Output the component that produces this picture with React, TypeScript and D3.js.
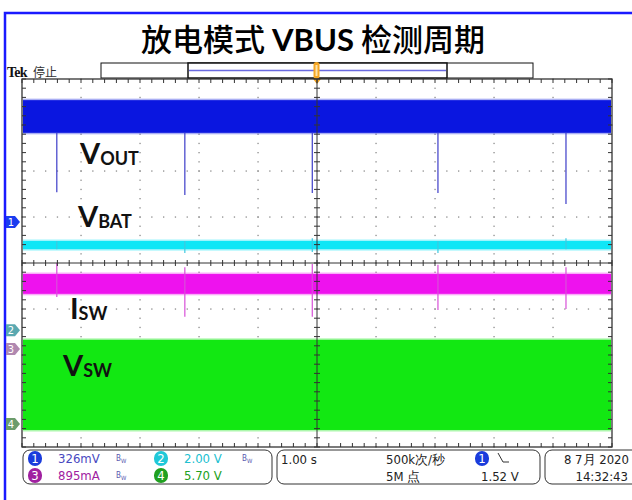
import React from "react";
import * as d3 from "d3";

// scope screen: 10 horizontal divisions (1.00 s/div), 8 vertical divisions
const timeDomain = [-5, 5];
const divDomain = [-4, 4];

// spikes recur roughly every 2.13 s
const spikeTimes = [-4.41, -2.24, -0.08, 2.05, 4.22];

// trace bands, in divisions from screen centre [low, high]
const ch1Band = [2.83, 3.54];
const ch2Band = [0.3, 0.48];
const ch3Band = [-0.67, -0.24];
const ch4Band = [-3.63, -1.67];

// spike extents per spike time
const ch1SpikeTops = [2.83, 2.83, 2.83, 2.83, 2.83];
const ch1SpikeLows = [1.54, 1.48, 1.52, 1.52, 1.28];
const ch2SpikeTops = [0.48, 0.48, 0.54, 0.48, 0.54];
const ch2SpikeLows = [0.3, 0.22, 0.24, 0.22, 0.3];
const ch3SpikeTops = [0.0, -0.09, -0.02, -0.04, -0.09];
const ch3SpikeLows = [-0.74, -1.17, -1.17, -1.02, -1.0];

// ground markers on left edge (ch1..ch4)
const markerLevels = [0.89, -1.46, -1.87, -3.5];
const markerLabels = ["1", "2", "3", "4"];

// trace labels
const traceLabels = [
  { main: "V", sub: "OUT" },
  { main: "V", sub: "BAT" },
  { main: "I", sub: "SW" },
  { main: "V", sub: "SW" },
];

// readouts
const chNumbers = ["1", "2", "3", "4"];
const chScales = ["326mV", "2.00 V", "895mA", "5.70 V"];
const timebase = "1.00 s";
const sampleRate = "500k次/秒";
const recordLength = "5M 点";
const trigLevel = "1.52 V";
const dateText = "8 7月 2020";
const timeText = "14:32:43";
const titleParts = ["放电模式 ", "VBUS", " 检测周期"];

const W = 632;
const H = 500;
const plot = { left: 22, right: 612, top: 79, bottom: 447 };

const traceColors = ["#0a16e0", "#10e6f6", "#ee12ee", "#12e812"];
const spikeColors = ["#3c3cc8", "#40c8e0", "#d850d8", "#40c040"];
const markerFills = ["#1a3cf0", "#5aa8b0", "#b088b0", "#6c9c6c"];
const chipFills = ["#1a3cdc", "#20c8d8", "#a020a0", "#20a020"];
const readColors = ["#4848c0", "#20c0d0", "#a020a0", "#20a020"];
const labelPos = [
  { x: 80, y: 164 },
  { x: 78, y: 227 },
  { x: 70, y: 319 },
  { x: 63, y: 376 },
];

export default function App() {
  const x = d3.scaleLinear().domain(timeDomain).range([plot.left, plot.right]);
  const y = d3.scaleLinear().domain(divDomain).range([plot.bottom, plot.top]);

  const majorX = d3.range(timeDomain[0], timeDomain[1] + 0.001, 1);
  const majorY = d3.range(divDomain[0], divDomain[1] + 0.001, 1);
  const minorX = d3.range(timeDomain[0], timeDomain[1] + 0.001, 0.2);
  const minorY = d3.range(divDomain[0], divDomain[1] + 0.001, 0.2);

  const band = (b: number[], i: number) => (
    <g key={"band" + i}>
      <rect
        x={plot.left + 1}
        width={plot.right - plot.left - 2}
        y={y(b[1]) - 1.5}
        height={y(b[0]) - y(b[1]) + 3}
        fill={traceColors[i]}
        opacity={0.35}
      />
      <rect
        x={plot.left + 1}
        width={plot.right - plot.left - 2}
        y={y(b[1])}
        height={y(b[0]) - y(b[1])}
        fill={traceColors[i]}
      />
    </g>
  );

  const spikes = (tops: number[], lows: number[], i: number) =>
    spikeTimes.map((t, k) => (
      <line
        key={"sp" + i + "-" + k}
        x1={x(t)}
        x2={x(t)}
        y1={y(tops[k])}
        y2={y(lows[k])}
        stroke={spikeColors[i]}
        strokeWidth={1.2}
      />
    ));

  const mono = "'Liberation Sans Narrow', 'DejaVu Sans Condensed', 'Liberation Sans', sans-serif";

  return (
    <svg
      width={W}
      height={H}
      style={{ position: "absolute", left: 0, top: 0, background: "#fff" }}
      fontFamily="'Liberation Sans', sans-serif"
    >
      <rect x={0} y={0} width={W} height={H} fill="#fff" />
      {/* outer slide frame */}
      <rect x={5} y={13} width={W + 20} height={H + 20} fill="none" stroke="#1a1aff" strokeWidth={2.5} />

      <text
        x={313}
        y={51}
        textAnchor="middle"
        fontFamily="'Noto Sans CJK SC', 'Noto Sans', sans-serif"
        fontSize={31}
        fill="#000"
      >
        <tspan fontWeight={500}>{titleParts[0]}</tspan>
        <tspan fontWeight="bold" fontFamily="Lato, 'Noto Sans CJK SC', sans-serif">
          {titleParts[1]}
        </tspan>
        <tspan fontWeight={500}>{titleParts[2]}</tspan>
      </text>

      {/* header */}
      <text x={7} y={77} fontFamily="'Liberation Serif', serif" fontWeight="bold" fontSize={14} fill="#111" letterSpacing={-0.8}>
        Tek
      </text>
      <text x={33} y={77} fontFamily="'Noto Sans CJK SC', sans-serif" fontSize={12} fill="#333">
        停止
      </text>

      {/* record bar */}
      <rect x={101} y={63} width={432} height={15} fill="#fff" stroke="#111" strokeWidth={1} />
      <rect x={188} y={63} width={259} height={15} fill="#fff" stroke="#111" strokeWidth={1.5} />
      <line x1={189} x2={446} y1={70.5} y2={70.5} stroke="#6a6ae0" strokeWidth={1.3} />
      <rect x={313.5} y={62} width={6} height={17} rx={3} fill="#f5a623" />
      <rect x={315.5} y={65} width={2} height={11} fill="#fde2a8" />
      <path d={`M${x(0) - 4},${plot.top} L${x(0) + 4},${plot.top} L${x(0)},${plot.top + 5} Z`} fill="#f5a623" />

      {/* dotted graticule */}
      <g fill="#8c8c8c">
        {majorX
          .filter((v) => v !== 0 && v !== timeDomain[0] && v !== timeDomain[1])
          .map((v) =>
            minorY.map((m) => (
              <rect key={"vx" + v + "-" + m} x={x(v) - 0.6} y={y(m) - 0.6} width={1.3} height={1.3} />
            ))
          )}
        {majorY
          .filter((v) => v !== 0 && v !== divDomain[0] && v !== divDomain[1])
          .map((v) =>
            minorX.map((m) => (
              <rect key={"hy" + v + "-" + m} x={x(m) - 0.6} y={y(v) - 0.6} width={1.3} height={1.3} />
            ))
          )}
      </g>

      {/* traces */}
      {band(ch1Band, 0)}
      {spikes(ch1SpikeTops, ch1SpikeLows, 0)}
      {band(ch2Band, 1)}
      {spikes(ch2SpikeTops, ch2SpikeLows, 1)}
      {band(ch3Band, 2)}
      {spikes(ch3SpikeTops, ch3SpikeLows, 2)}
      {band(ch4Band, 3)}

      {/* centre cross */}
      <g stroke="#333" strokeWidth={1}>
        <line x1={x(0)} x2={x(0)} y1={plot.top} y2={plot.bottom} />
        <line x1={plot.left} x2={plot.right} y1={y(0)} y2={y(0)} />
        {minorX.map((m) => (
          <line key={"ctx" + m} x1={x(m)} x2={x(m)} y1={y(0) - 3} y2={y(0) + 3} />
        ))}
        {minorY.map((m) => (
          <line key={"cty" + m} x1={x(0) - 3} x2={x(0) + 3} y1={y(m)} y2={y(m)} />
        ))}
      </g>

      {/* border with ticks */}
      <g stroke="#333" strokeWidth={1}>
        <rect
          x={plot.left}
          y={plot.top}
          width={plot.right - plot.left}
          height={plot.bottom - plot.top}
          fill="none"
          strokeWidth={1.3}
        />
        {minorX.map((m) => (
          <g key={"bx" + m}>
            <line x1={x(m)} x2={x(m)} y1={plot.top} y2={plot.top + 4} />
            <line x1={x(m)} x2={x(m)} y1={plot.bottom} y2={plot.bottom - 4} />
          </g>
        ))}
        {minorY.map((m) => (
          <g key={"by" + m}>
            <line x1={plot.left} x2={plot.left + 4} y1={y(m)} y2={y(m)} />
            <line x1={plot.right} x2={plot.right - 4} y1={y(m)} y2={y(m)} />
          </g>
        ))}
      </g>

      {/* ground markers */}
      {markerLevels.map((lv, i) => {
        const cy = y(lv);
        return (
          <g key={"mk" + i}>
            <path
              d={`M6,${cy - 6} L15,${cy - 6} L20,${cy} L15,${cy + 6} L6,${cy + 6} Z`}
              fill={markerFills[i]}
            />
            <text x={11} y={cy + 4} textAnchor="middle" fontSize={11} fill="#fff" fontFamily={mono}>
              {markerLabels[i]}
            </text>
          </g>
        );
      })}

      {/* trace labels */}
      {traceLabels.map((l, i) => (
        <text
          key={"tl" + i}
          x={labelPos[i].x}
          y={labelPos[i].y}
          fontFamily="Lato, 'Open Sans', sans-serif"
          fontWeight="bold"
          fontSize={29}
          fill="#111"
        >
          {l.main}
          <tspan fontSize={18} dy={1}>
            {l.sub}
          </tspan>
        </text>
      ))}

      {/* readout boxes */}
      <g fill="none" stroke="#333" strokeWidth={1}>
        <rect x={23} y={450} width={249} height={34} rx={7} />
        <rect x={277} y={450} width={263} height={34} rx={7} />
        <rect x={545} y={450} width={100} height={34} rx={7} />
      </g>
      <g fontFamily={mono} fontSize={12}>
        {chNumbers.map((n, i) => {
          const cx = i % 2 === 0 ? 35 : 161;
          const cy = i < 2 ? 458.5 : 475.5;
          return (
            <g key={"chip" + i}>
              <rect x={cx - 7} y={cy - 7.5} width={14} height={15} rx={7} fill={chipFills[i]} />
              <text x={cx} y={cy + 4.5} textAnchor="middle" fill="#fff" fontSize={13}>
                {n}
              </text>
              <text x={cx + 23} y={cy + 4.5} fill={readColors[i]} fontSize={13}>
                {chScales[i]}
              </text>
              {i !== 3 && (
                <text x={cx + 81} y={cy + 2} fill="#5a5ab0" fontSize={8}>
                  B
                  <tspan fontSize={6} dy={2}>
                    W
                  </tspan>
                </text>
              )}
            </g>
          );
        })}
        <text x={281} y={464} fill="#222" fontSize={13}>
          {timebase}
        </text>
        <text x={386} y={464} fill="#222" fontSize={13}>
          {sampleRate}
        </text>
        <text x={386} y={481} fill="#222" fontSize={13}>
          {recordLength}
        </text>
        <rect x={475} y={451} width={14} height={15} rx={7} fill={chipFills[0]} />
        <text x={482} y={463} textAnchor="middle" fill="#fff" fontSize={13}>
          1
        </text>
        <path d="M498,453 L503,462 L509,462" fill="none" stroke="#333" strokeWidth={1} />
        <text x={481} y={481} fill="#222" fontSize={13}>
          {trigLevel}
        </text>
        <text x={629} y={464} textAnchor="end" fill="#222" fontSize={13}>
          {dateText}
        </text>
        <text x={628} y={481} textAnchor="end" fill="#222" fontSize={13}>
          {timeText}
        </text>
      </g>
    </svg>
  );
}
